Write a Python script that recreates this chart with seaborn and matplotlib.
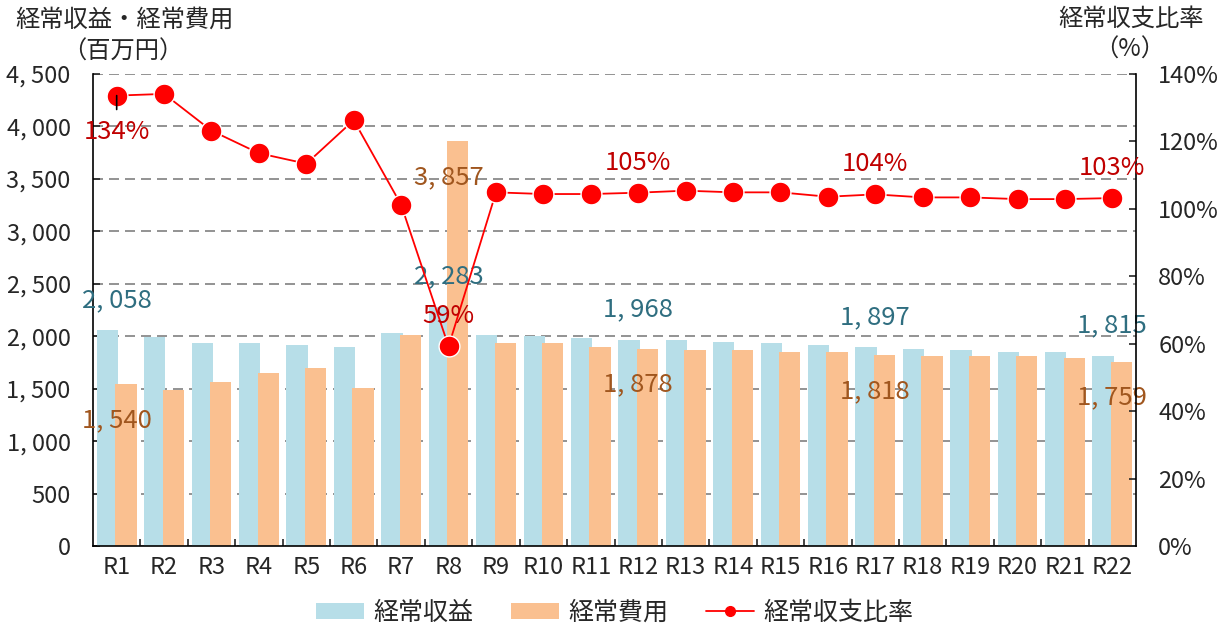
import numpy as np
import pandas as pd
import matplotlib
matplotlib.use("Agg")
import matplotlib.pyplot as plt
from matplotlib import font_manager
from matplotlib.patches import Patch
from matplotlib.lines import Line2D
import seaborn as sns

# ---------------- data ----------------
years = [f"R{i}" for i in range(1, 23)]
revenue = [2058, 1995, 1931, 1931, 1912, 1896, 2029, 2283, 2013, 2000, 1981,
           1968, 1962, 1943, 1931, 1912, 1897, 1877, 1864, 1845, 1845, 1815]
expense = [1540, 1485, 1562, 1645, 1695, 1511, 2013, 3857, 1931, 1931, 1896,
           1878, 1864, 1864, 1845, 1845, 1818, 1810, 1810, 1810, 1794, 1759]
ratio = [133.6, 134.1, 123.2, 116.5, 113.4, 126.3, 101.2, 59.2, 104.9, 104.4, 104.4,
         104.8, 105.4, 104.9, 104.9, 103.6, 104.3, 103.4, 103.4, 102.9, 102.9, 103.2]
series_names = ["経常収益", "経常費用", "経常収支比率"]
left_ticks = [0, 500, 1000, 1500, 2000, 2500, 3000, 3500, 4000, 4500]
right_ticks = [0, 20, 40, 60, 80, 100, 120, 140]
labeled_idx = [0, 7, 11, 16, 21]
ratio_label_text = ["134%", "59%", "105%", "104%", "103%"]

# ---------------- style ----------------
sns.set_style("ticks")
names = {f.name for f in font_manager.fontManager.ttflist}
if "Liberation Sans Narrow" in names:
    plt.rcParams["font.family"] = ["Liberation Sans Narrow", "Noto Sans CJK JP", "DejaVu Sans"]
    TICK_FS, LAB_FS = 17.5, 19.5
else:
    plt.rcParams["font.family"] = ["Noto Sans CJK JP", "DejaVu Sans"]
    TICK_FS, LAB_FS = 17.0, 18.5
plt.rcParams["axes.unicode_minus"] = False

C_REV = "#B7DEE8"
C_EXP = "#FAC090"
C_LINE = "#FF0000"
C_REV_T = "#2F6E80"
C_EXP_T = "#A0561E"
C_RAT_T = "#C00000"
JP = ["Noto Sans CJK JP", "DejaVu Sans"]

fig = plt.figure(figsize=(12.2, 6.31), dpi=100)
ax = fig.add_axes([0.0762, 0.1347, 0.855, 0.748])

df = pd.DataFrame({
    "year": years * 2,
    "value": revenue + expense,
    "series": [series_names[0]] * len(years) + [series_names[1]] * len(years),
})
sns.barplot(data=df, x="year", y="value", hue="series",
            palette=[C_REV, C_EXP], width=0.78, saturation=1,
            legend=False, ax=ax, zorder=2)
for p in ax.patches:
    c = p.get_x() + p.get_width() / 2
    w = p.get_width() * 1.15
    p.set_x(c - w / 2)
    p.set_width(w)
    p.set_linewidth(0)

n = len(years)
ax.set_xlim(-0.5, n - 0.5)
ax.set_ylim(0, 4500)
ax.set_yticks(left_ticks)
ax.set_yticklabels([f"{v:,}".replace(",", ", ") for v in left_ticks])
ax.set_xticks(range(n))
ax.set_xticklabels(years)
ax.set_xticks([i + 0.5 for i in range(n - 1)], minor=True)
ax.tick_params(axis="x", which="major", length=0, pad=7, labelsize=TICK_FS)
ax.tick_params(axis="x", which="minor", direction="in", length=5, width=1.2)
ax.tick_params(axis="y", direction="in", length=5, width=1.2, pad=16, labelsize=TICK_FS)
ax.set_xlabel("")
ax.set_ylabel("")
ax.set_axisbelow(True)
ax.yaxis.grid(True, color="#808080", linewidth=1.2, linestyle=(0, (6, 3.6)))
ax.xaxis.grid(False)
for s in ["left", "bottom"]:
    ax.spines[s].set_color("black")
    ax.spines[s].set_linewidth(1.2)
ax.spines["top"].set_visible(False)
ax.spines["right"].set_visible(False)

# bar labels
for i in labeled_idx:
    ax.annotate(f"{revenue[i]:,}".replace(",", ", "), xy=(i, revenue[i]),
                xytext=(0, 16.6), textcoords="offset points",
                ha="center", va="baseline", fontsize=LAB_FS, color=C_REV_T, zorder=5)
    ax.annotate(f"{expense[i]:,}".replace(",", ", "), xy=(i, expense[i]),
                xytext=(0, -30.6), textcoords="offset points",
                ha="center", va="baseline", fontsize=LAB_FS, color=C_EXP_T, zorder=5)

# ratio line
ax2 = ax.twinx()
ax2.set_position(ax.get_position())
sns.lineplot(x=np.arange(n), y=ratio, ax=ax2, color=C_LINE, linewidth=1.3,
             marker="o", markersize=15, markerfacecolor=C_LINE,
             markeredgecolor="white", markeredgewidth=1.0, zorder=4)
ax2.set_xlim(-0.5, n - 0.5)
ax2.set_ylim(0, 140)
ax2.set_yticks(right_ticks)
ax2.set_yticklabels([f"{v}%" for v in right_ticks])
ax2.tick_params(axis="y", direction="in", length=5, width=1.2, pad=16, labelsize=TICK_FS)
ax2.set_ylabel("")
ax2.grid(False)
ax2.spines["right"].set_color("black")
ax2.spines["right"].set_linewidth(1.2)
for s in ["top", "left", "bottom"]:
    ax2.spines[s].set_visible(False)

for j, i in enumerate(labeled_idx):
    off = -31.3 if i == 0 else 16.6
    ax2.annotate(ratio_label_text[j], xy=(i, ratio[i]), xytext=(0, off),
                 textcoords="offset points", ha="center", va="baseline",
                 fontsize=LAB_FS, color=C_RAT_T, zorder=6)
# small leader line under the first point
ax2.annotate("", xy=(0, ratio[0]), xytext=(0, -10), textcoords="offset points",
             arrowprops=dict(arrowstyle="-", color="black", lw=1.2,
                             shrinkA=0, shrinkB=0), zorder=6)

# axis titles
fig.text(15 / 1220, 1 - 20 / 631, "経常収益・経常費用", ha="left", va="center",
         fontsize=17.5, family=JP)
fig.text(123 / 1220, 1 - 52 / 631, "（百万円）", ha="center", va="center",
         fontsize=17.5, family=JP)
fig.text(1131 / 1220, 1 - 19 / 631, "経常収支比率", ha="center", va="center",
         fontsize=17.5, family=JP)
fig.text(1130 / 1220, 1 - 50 / 631, "（%）", ha="center", va="center",
         fontsize=17.5, family=JP)

# legend
handles = [Patch(facecolor=C_REV, edgecolor="none"),
           Patch(facecolor=C_EXP, edgecolor="none"),
           Line2D([0], [0], color=C_LINE, linewidth=1.3, marker="o", markersize=7,
                  markerfacecolor=C_LINE, markeredgecolor=C_LINE)]
fig.legend(handles, series_names, loc="center", bbox_to_anchor=(0.504, 0.029),
           ncol=3, frameon=False, prop={"family": JP, "size": 18},
           handlelength=1.9, handleheight=0.6, columnspacing=1.5, handletextpad=0.4)

fig.savefig("out.png", dpi=100)
